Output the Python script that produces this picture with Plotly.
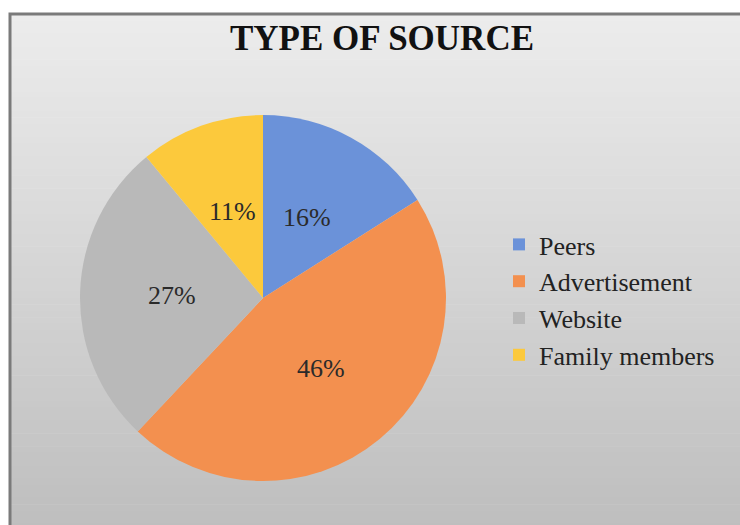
import math
import plotly.graph_objects as go

# Share of respondents by information source
sources = ["Peers", "Advertisement", "Website", "Family members"]
shares = [16, 46, 27, 11]
slice_colors = ["#6b92d9", "#f3904f", "#b9b9b9", "#fcc93c"]

W, H = 740, 525

# Pie placement in pixels (centre and radius), converted to a paper domain
cx, cy, R = 263, 298, 183
dom_x = [(cx - R) / W, (cx + R) / W]
dom_y = [(H - cy - R) / H, (H - cy + R) / H]

fig = go.Figure()

fig.add_trace(go.Pie(
    labels=sources,
    values=shares,
    sort=False,
    direction="clockwise",
    rotation=0,
    marker=dict(colors=slice_colors, line=dict(width=0)),
    textinfo="none",
    hoverinfo="label+percent",
    domain=dict(x=dom_x, y=dom_y),
))

# Percentage labels sit halfway out along each slice's bisector
total = sum(shares)
annotations = []
start = 0.0
for name, v in zip(sources, shares):
    mid = (start + v / 2) / total
    start += v
    theta = 2 * math.pi * mid
    px = cx + 0.5 * R * math.sin(theta)
    py = cy - 0.5 * R * math.cos(theta)
    annotations.append(dict(
        x=px / W, y=1 - py / H, xref="paper", yref="paper",
        xanchor="center", yanchor="middle", showarrow=False,
        text=f"{round(100 * v / total)}%",
        font=dict(family="Liberation Serif", size=26, color="#2a2a2a"),
    ))

# Vertical grey gradient behind the chart, built from thin bands
def mix(c0, c1, t):
    return "rgb({},{},{})".format(*[round(a + (b - a) * t) for a, b in zip(c0, c1)])

top_rgb, bottom_rgb = (236, 236, 236), (190, 190, 190)
x0, y_top, y_bot = 10, 14, H + 5
bands = 80
shapes = []
for i in range(bands):
    ya = y_top + (y_bot - y_top) * i / bands
    yb = y_top + (y_bot - y_top) * (i + 1) / bands + 0.6
    shapes.append(dict(
        type="rect", xref="paper", yref="paper", layer="below",
        x0=x0 / W, x1=(W + 5) / W, y0=1 - yb / H, y1=1 - ya / H,
        fillcolor=mix(top_rgb, bottom_rgb, i / (bands - 1)),
        line=dict(width=0),
    ))
# Frame around the chart area
shapes.append(dict(
    type="rect", xref="paper", yref="paper", layer="below",
    x0=x0 / W, x1=(W + 5) / W, y0=1 - y_bot / H, y1=1 - y_top / H,
    fillcolor="rgba(0,0,0,0)",
    line=dict(color="#7a7a7a", width=3),
))

fig.update_layout(
    width=W, height=H,
    margin=dict(l=0, r=0, t=0, b=0),
    paper_bgcolor="white",
    plot_bgcolor="rgba(0,0,0,0)",
    shapes=shapes,
    annotations=annotations,
    title=dict(
        text="<b>TYPE OF SOURCE</b>",
        x=382 / W, xanchor="center", xref="paper",
        y=1 - 38 / H, yanchor="middle", yref="paper",
        font=dict(family="Liberation Serif", size=35, color="#111111"),
    ),
    legend=dict(
        x=499 / W, xanchor="left",
        y=1 - 300 / H, yanchor="middle",
        bgcolor="rgba(0,0,0,0)",
        font=dict(family="Liberation Serif", size=26, color="#222222"),
        itemclick=False, itemdoubleclick=False,
    ),
    showlegend=True,
)

fig.write_html("out.html")
